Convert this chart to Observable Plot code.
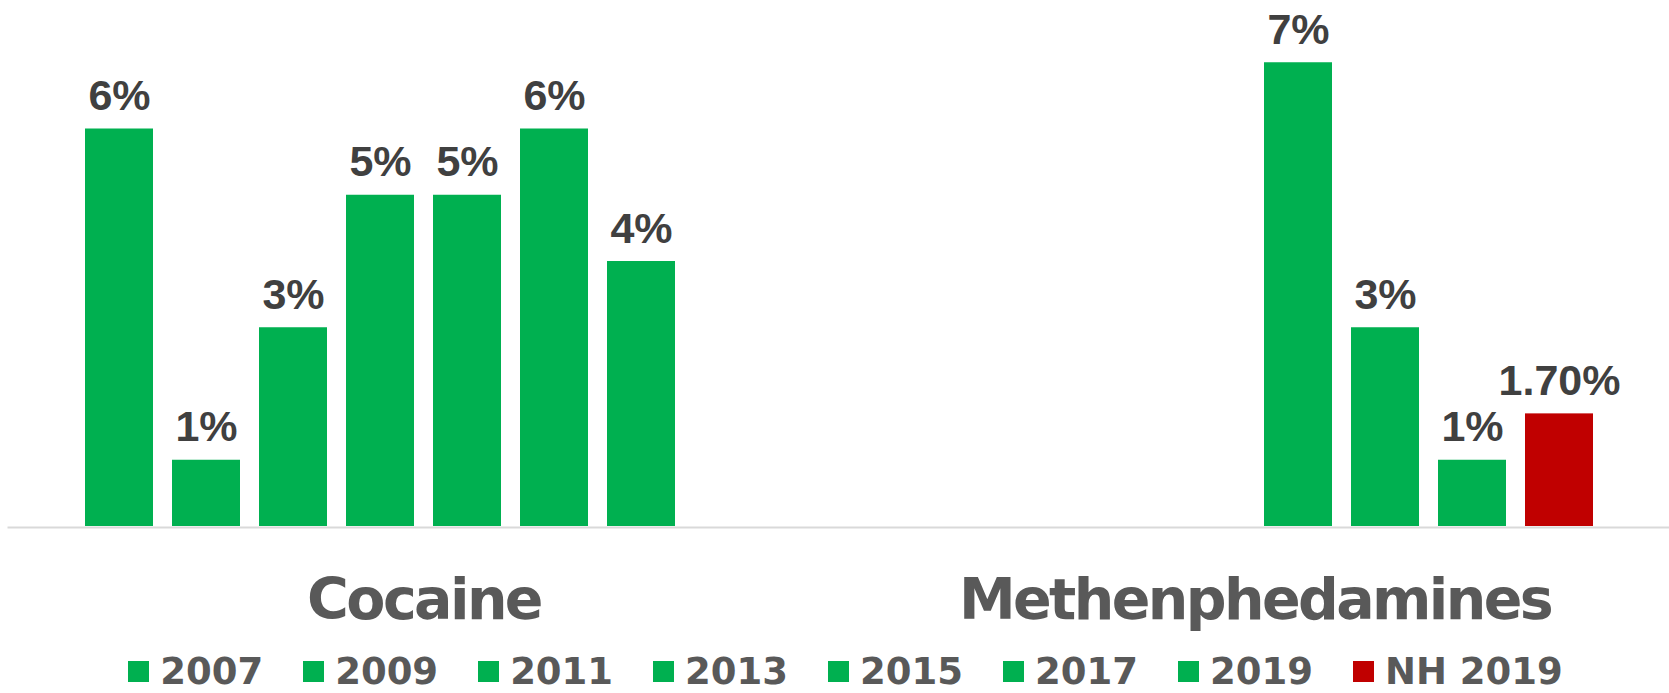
<!DOCTYPE html>
<html>
<head>
<meta charset="utf-8">
<script src="https://cdn.jsdelivr.net/npm/d3@7"></script>
<script src="https://cdn.jsdelivr.net/npm/@observablehq/plot@0.6"></script>
<style>
  html, body { margin: 0; padding: 0; background: #fff; }
  #chart svg { display: block; }
  #chart g[aria-label="fx-axis tick label"] text { letter-spacing: -2.6px; }
  .lg-swatches { justify-content: center; font-family: "DejaVu Sans", sans-serif; font-weight: bold; font-size: 37px; color: #595959; margin: 0; padding: 0 0 0 22px; }
  .lg-swatches-wrap .lg-swatch { margin: 0 20px; }
  .lg-swatch > svg { margin-right: 11px; }
</style>
</head>
<body>
<div id="chart"></div>
<script>
// ---- data ----
const years = ["2007", "2009", "2011", "2013", "2015", "2017", "2019", "NH 2019"];
const yearColors = ["#00B050", "#00B050", "#00B050", "#00B050", "#00B050", "#00B050", "#00B050", "#C00000"];
const drugs = ["Cocaine", "Methenphedamines"];

const cocaineYears = ["2007", "2009", "2011", "2013", "2015", "2017", "2019"];
const cocaineValues = [0.06, 0.01, 0.03, 0.05, 0.05, 0.06, 0.04];
const cocaineLabels = ["6%", "1%", "3%", "5%", "5%", "6%", "4%"];

const methYears = ["2015", "2017", "2019", "NH 2019"];
const methValues = [0.07, 0.03, 0.01, 0.017];
const methLabels = ["7%", "3%", "1%", "1.70%"];

// ---- table built from arrays ----
const rows = [
  ...cocaineYears.map((y, i) => ({drug: drugs[0], year: y, value: cocaineValues[i], label: cocaineLabels[i]})),
  ...methYears.map((y, i) => ({drug: drugs[1], year: y, value: methValues[i], label: methLabels[i]}))
];

const chart = Plot.plot({
  width: 1669,
  height: 650,
  marginLeft: 8,
  marginRight: 0,
  marginTop: 0,
  marginBottom: 124,
  style: {background: "#fff", overflow: "visible"},
  fx: {domain: drugs, paddingInner: 0.183, paddingOuter: 0.0899, label: null},
  x: {domain: years, paddingInner: 0.215, paddingOuter: 0, axis: null},
  y: {domain: [0, 0.08], range: [526, -4], axis: null},
  color: {domain: years, range: yearColors},
  marks: [
    Plot.frame({anchor: "bottom", facet: "super", stroke: "#D9D9D9", strokeWidth: 2, dy: 1, insetLeft: -76, insetRight: -76}),
    Plot.barY(rows, {fx: "drug", x: "year", y: "value", fill: "year"}),
    Plot.text(rows, {
      fx: "drug", x: "year", y: "value", text: "label",
      lineAnchor: "bottom", dy: -19,
      fontSize: 43, fontWeight: "bold", fontFamily: "Liberation Sans, Arial, sans-serif",
      fill: "#404040"
    }),
    Plot.axisFx({
      anchor: "bottom", tickSize: 0, tickPadding: 52, label: null,
      fontSize: 57, fontWeight: "bold", fontFamily: "DejaVu Sans, sans-serif",
      fill: "#595959"
    })
  ]
});
document.getElementById("chart").appendChild(chart);

const legend = Plot.legend({
  color: {domain: years, range: yearColors},
  swatchSize: 21,
  className: "lg"
});
document.getElementById("chart").appendChild(legend);
</script>
</body>
</html>
